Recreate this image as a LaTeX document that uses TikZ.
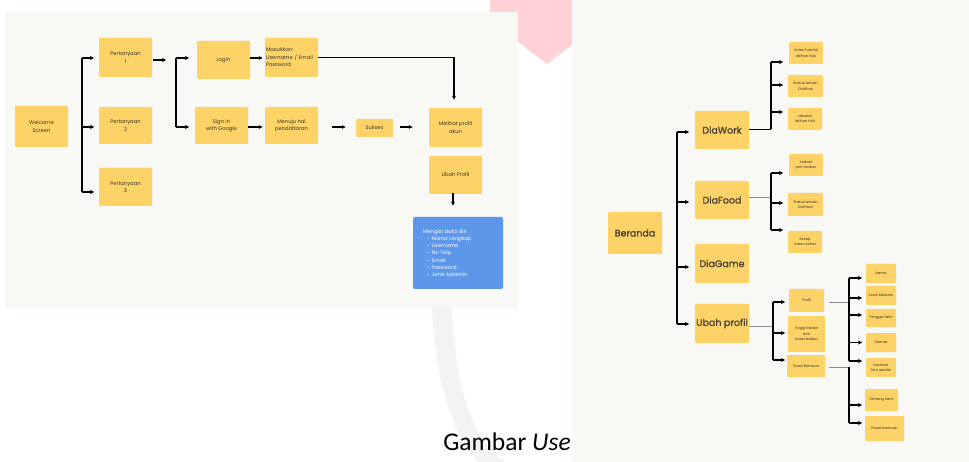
\documentclass[tikz,border=0pt]{standalone}
\usepackage{fontspec}
\setmainfont{Poppins}
\newfontfamily\capfont{Carlito}
\newfontfamily\semifont[FakeBold=1.2]{Poppins}
\usepackage{tikz}
\usetikzlibrary{arrows.meta,positioning,calc}
\definecolor{ux@paper}{RGB}{248,248,244}
\definecolor{ux@yellow}{RGB}{253,210,102}
\definecolor{ux@blue}{RGB}{92,151,234}
\definecolor{ux@ink}{RGB}{58,54,46}
\definecolor{ux@head}{RGB}{72,66,56}
\definecolor{ux@pink}{RGB}{255,211,214}
\definecolor{ux@mark}{RGB}{243,243,243}
\definecolor{ux@line}{RGB}{140,140,140}
\tikzset{
  ux/.style={
    x=1pt, y=-1pt,
    >={Stealth[length=4pt,width=4pt]},
    line width=0.6pt
  },
  sticky/.style={                  % yellow sticky note
    fill=ux@yellow, text=ux@ink,
    rounded corners=1pt,
    inner sep=1pt,
    align=center,
    font=\fontsize{5.2}{7.5}\selectfont
  },
  head/.style={                    % big menu note
    sticky, text=ux@head,
    font=\semifont\fontsize{9.5}{11}\selectfont,
    minimum width=54pt, minimum height=38pt
  },
  leaf/.style={                    % small sub-menu note
    sticky,
    font=\fontsize{3.6}{5.5}\selectfont
  },
  stem/.style={line width=1.3pt, draw=black},
  tip/.style={->, line width=1.3pt, draw=black},
  link/.style={line width=0.6pt, draw=ux@line},
  capstyle/.style={font=\capfont\fontsize{25.5}{30}\selectfont, text=black}
}
\begin{document}
\begin{tikzpicture}[ux]
\useasboundingbox (0,0) rectangle (969,462);

% Watermark shapes of the page
\fill[ux@pink] (490,0) -- (572,0) -- (572,45) -- (547,64) -- (518,42) -- (490,20) -- cycle;
\fill[ux@mark] (432,308) -- (452,308) .. controls (456,390) and (472,440) .. (505,462)
  -- (478,462) .. controls (450,430) and (436,380) .. (432,308) -- cycle;

% Caption (partly under the right picture)
\node[capstyle, anchor=base west, inner sep=0] (cap) at (443,450) {Gambar \textit{Use}};

% Picture backgrounds
\fill[ux@paper] (5,12) rectangle (518,308);
\fill[ux@paper] (572,0) rectangle (969,462);

% ---------- Left flow ----------
\node[sticky, minimum width=53pt, minimum height=41pt] (welcome) at (41.5,126.5) {Welcome\\Screen};
\node[sticky, minimum width=53pt, minimum height=39pt] (q1) at (125.5,57.5) {Pertanyaan\\1};
\node[sticky, minimum width=53pt, minimum height=37pt] (q2) at (125.5,125.5) {Pertanyaan\\2};
\node[sticky, minimum width=53pt, minimum height=38pt] (q3) at (125.5,187) {Pertanyaan\\3};

\node[sticky, minimum width=53pt, minimum height=38pt] (login) at (223.5,60) {Login};
\node[sticky, minimum width=53pt, minimum height=37pt] (google) at (221.5,125.5) {Sign in\\with Google};
\node[sticky, text width=51pt, align=left, minimum height=39pt] (masuk) at (291.5,57.5)
  {Masukkan:\\Username / Email\\Password};
\node[sticky, minimum width=53pt, minimum height=37pt] (daftar) at (291.5,125.5) {Menuju hal\\pendaftaran};
\node[sticky, minimum width=37pt, minimum height=18pt] (sukses) at (374.5,128) {Sukses};
\node[sticky, minimum width=53pt, minimum height=39pt] (lihat) at (455.5,127.5) {Melihat profil\\akun};
\node[sticky, minimum width=53pt, minimum height=38pt] (ubah) at (455.5,175) {Ubah Profil};
\node[fill=ux@blue, text=white, rounded corners=1.5pt,
  text width=70pt, inner xsep=10pt, minimum height=72pt, align=left,
  font=\fontsize{5.2}{7.2}\selectfont] (isi) at (458,253)
  {Mengisi data diri\\
   \hspace*{4pt}\textbullet\hspace{2.5pt}Nama Lengkap\\
   \hspace*{4pt}\textbullet\hspace{2.5pt}Username\\
   \hspace*{4pt}\textbullet\hspace{2.5pt}No Telp\\
   \hspace*{4pt}\textbullet\hspace{2.5pt}Email\\
   \hspace*{4pt}\textbullet\hspace{2.5pt}Password\\
   \hspace*{4pt}\textbullet\hspace{2.5pt}Jenis kelamin};

% Welcome bracket
\coordinate (forkQ) at (82,0);
\draw[stem] ($(forkQ |- q1.west)+(0,0.5)$) -- ($(forkQ |- q3.west)+(0,5)$);
\foreach \nn/\dy in {q1/0.5,q2/1.5,q3/5}
  \draw[tip] ($(forkQ |- \nn.west)+(0,\dy)$) -- ++(12,0);

% Login bracket
\coordinate (forkL) at (176,0);
\draw[tip, shorten <=1pt] ($(q1.east)+(0,2.5)$) -- ($(forkL |- q1.east)+(-10,2.5)$);
\draw[stem] ($(forkL |- login.west)+(0,-2)$) -- ($(forkL |- google.west)+(0,1.5)$);
\foreach \nn/\dy in {login/-2,google/1.5}
  \draw[tip] ($(forkL |- \nn.west)+(0,\dy)$) -- ++(13,0);

% Steps
\draw[tip, shorten >=2pt] ($(login.east)+(0,-2)$) -- ($(masuk.west)+(0,0.5)$);
\draw[tip, shorten >=8pt] (masuk.east) -| ($(lihat.north)+(-1.5,0)$);
\draw[tip, shorten >=2pt] ($(google.east)+(0,1.5)$) -- ($(daftar.west)+(0,1.5)$);
\draw[tip, shorten <=14pt, shorten >=10pt] ($(daftar.east)+(0,1.5)$) -- ($(sukses.west)+(0,-1)$);
\draw[tip, shorten <=7pt, shorten >=16pt] ($(sukses.east)+(0,-1)$) -- ($(lihat.west)+(0,-0.5)$);
\draw[tip, shorten <=-1pt, shorten >=11pt] ($(ubah.south)+(-2.5,0)$) -- ($(isi.north)+(-5,0)$);

% ---------- Right menu tree ----------
\node[head, minimum height=42pt] (beranda) at (635,233) {Beranda};
\node[head] (work) at (722,130) {DiaWork};
\node[head] (food) at (722,200) {DiaFood};
\node[head, minimum height=39pt] (game) at (722,263.5) {DiaGame};
\node[head, minimum height=39pt] (uprof) at (722,323.5) {Ubah profil};

\node[leaf, minimum width=34pt, minimum height=22pt] (w1) at (806,53) {Video tutorial\\latihan fisik};
\node[leaf, minimum width=35pt, minimum height=22pt] (w2) at (805.5,86) {Status teman\\DiaWork};
\node[leaf, minimum width=34pt, minimum height=22pt] (w3) at (805,119) {catatan\\latihan fisik};

\node[leaf, minimum width=34pt, minimum height=22pt] (f1) at (806,165) {Jadwal\\jam makan};
\node[leaf, minimum width=35pt, minimum height=23pt] (f2) at (805.5,204.5) {Status teman\\DiaFood};
\node[leaf, minimum width=34pt, minimum height=22pt] (f3) at (805,242) {Resep\\menu sehat};

\node[leaf, minimum width=35pt, minimum height=23pt] (p1) at (806.5,300.5) {Profil};
\node[leaf, minimum width=37pt, minimum height=36pt] (p2) at (806.5,334) {Tinggi badan\\dan\\berat badan};
\node[leaf, minimum width=38pt, minimum height=22pt] (p3) at (806,366) {Pusat Bantuan};

\node[leaf, minimum width=30pt, minimum height=19pt] (n1) at (881,273.5) {Nama};
\node[leaf, minimum width=30pt, minimum height=19pt] (n2) at (881,295.5) {Jenis Kelamin};
\node[leaf, minimum width=30pt, minimum height=18pt] (n3) at (881,318) {Tanggal lahir};
\node[leaf, minimum width=30pt, minimum height=19pt] (n4) at (881,342.5) {Alamat};
\node[leaf, minimum width=30pt, minimum height=19pt] (n5) at (881,367.5) {Gambar\\foto sendiri};

\node[leaf, minimum width=33pt, minimum height=22pt] (b1) at (881.5,400) {Tentang kami};
\node[leaf, minimum width=39pt, minimum height=25pt] (b2) at (884.5,428.5) {Pusat bantuan};

% Main trunk
\coordinate (forkT) at (677,0);
\draw[stem] ($(forkT |- work.west)+(0,2)$) -- ($(forkT |- uprof.west)+(0,0.5)$);
\foreach \nn/\dy in {work/2,food/2,game/3.5,uprof/0.5}
  \draw[tip] ($(forkT |- \nn.west)+(0,\dy)$) -- ++(12,0);

% DiaWork branch
\coordinate (forkW) at (771,0);
\draw[line width=0.7pt] ($(work.east)+(0,-1)$) -- ($(forkW |- work.east)+(0,-1)$);
\draw[stem] ($(forkW |- w1.west)+(0,9)$) -- ($(forkW |- work.east)+(0,-1)$);
\foreach \nn/\dy in {w1/9,w2/-1,w3/-7}
  \draw[tip] ($(forkW |- \nn.west)+(0,\dy)$) -- ++(12,0);

% DiaFood branch
\draw[link] ($(food.east)+(0,-3)$) -- ($(forkW |- food.east)+(0,-3)$);
\draw[stem] ($(forkW |- f1.west)+(0,8)$) -- ($(forkW |- f3.west)+(0,-12)$);
\foreach \nn/\dy in {f1/8,f2/-1.5,f3/-12}
  \draw[tip] ($(forkW |- \nn.west)+(0,\dy)$) -- ++(12,0);

% Ubah profil branch
\coordinate (forkU) at (773,0);
\draw[link] ($(uprof.east)+(0,2.5)$) -- ($(forkU |- uprof.east)+(0,2.5)$);
\draw[stem] ($(forkU |- p1.west)+(0,1.5)$) -- ($(forkU |- p3.west)+(0,-6)$);
\foreach \nn/\dy in {p1/1.5,p2/-1,p3/-6}
  \draw[tip] ($(forkU |- \nn.west)+(0,\dy)$) -- ++(12,0);

% Profil branch
\coordinate (forkN) at (849,0);
\draw[link] ($(p1.east)+(5,1.5)$) -- ($(forkN |- p1.east)+(0,1.5)$);
\draw[stem] ($(forkN |- n1.west)+(0,4.5)$) -- ($(forkN |- n5.west)+(0,-6.5)$);
\foreach \nn/\dy in {n1/4.5,n2/2.5,n3/-3,n4/0,n5/-6.5}
  \draw[tip] ($(forkN |- \nn.west)+(0,\dy)$) -- ++(13,0);

% Pusat Bantuan branch
\draw[link] ($(p3.east)+(4,1)$) -- ($(forkN |- p3.east)+(0,1)$);
\draw[stem] ($(forkN |- p3.east)+(0,1)$) -- ($(forkN |- b2.west)+(0,-5.5)$);
\foreach \nn/\dy in {b1/5,b2/-5.5}
  \draw[tip] ($(forkN |- \nn.west)+(0,\dy)$) -- ++(13,0);

\end{tikzpicture}
\end{document}
